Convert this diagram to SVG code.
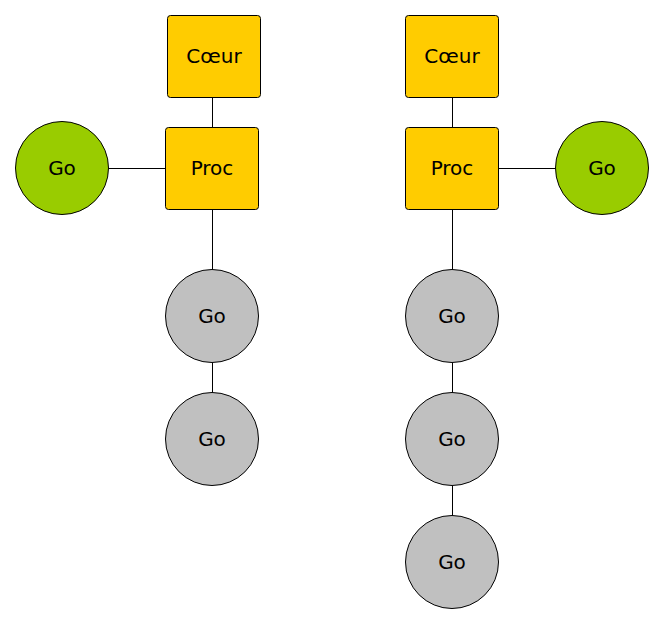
<svg xmlns="http://www.w3.org/2000/svg" width="664" height="624" viewBox="0 0 664 624">
  <style>
    .box { fill: #ffcc00; stroke: #000; stroke-width: 1; }
    .go { fill: #99cc00; stroke: #000; stroke-width: 1; }
    .idle { fill: #c0c0c0; stroke: #000; stroke-width: 1; }
    .edge { stroke: #000; stroke-width: 1; fill: none; }
    text { font-family: "DejaVu Sans", sans-serif; font-size: 20px; fill: #000; text-anchor: middle; }
  </style>
  <rect width="664" height="624" fill="#fff"/>
  <g id="connectors">
    <line class="edge" x1="212.5" y1="97.5" x2="212.5" y2="127.5"/>
    <line class="edge" x1="108.5" y1="168.5" x2="165.5" y2="168.5"/>
    <line class="edge" x1="212.5" y1="209.5" x2="212.5" y2="269.5"/>
    <line class="edge" x1="212.5" y1="362.5" x2="212.5" y2="392.5"/>
    <line class="edge" x1="452.5" y1="97.5" x2="452.5" y2="127.5"/>
    <line class="edge" x1="498.5" y1="168.5" x2="555.5" y2="168.5"/>
    <line class="edge" x1="452.5" y1="209.5" x2="452.5" y2="269.5"/>
    <line class="edge" x1="452.5" y1="362.5" x2="452.5" y2="392.5"/>
    <line class="edge" x1="452.5" y1="485.5" x2="452.5" y2="515.5"/>
  </g>
  <g id="coeur-left"><rect class="box" x="167.5" y="15.5" width="93" height="82" rx="3"/><text x="214" y="63">Cœur</text></g>
  <g id="proc-left"><rect class="box" x="165.5" y="127.5" width="93" height="82" rx="3"/><text x="212" y="175">Proc</text></g>
  <g id="go-left-active"><circle class="go" cx="62" cy="168" r="46.5"/><text x="62" y="175">Go</text></g>
  <g id="go-left-1"><circle class="idle" cx="212" cy="316" r="46.5"/><text x="212" y="323">Go</text></g>
  <g id="go-left-2"><circle class="idle" cx="212" cy="439" r="46.5"/><text x="212" y="446">Go</text></g>
  <g id="coeur-right"><rect class="box" x="405.5" y="15.5" width="93" height="82" rx="3"/><text x="452" y="63">Cœur</text></g>
  <g id="proc-right"><rect class="box" x="405.5" y="127.5" width="93" height="82" rx="3"/><text x="452" y="175">Proc</text></g>
  <g id="go-right-active"><circle class="go" cx="602" cy="168" r="46.5"/><text x="602" y="175">Go</text></g>
  <g id="go-right-1"><circle class="idle" cx="452" cy="316" r="46.5"/><text x="452" y="323">Go</text></g>
  <g id="go-right-2"><circle class="idle" cx="452" cy="439" r="46.5"/><text x="452" y="446">Go</text></g>
  <g id="go-right-3"><circle class="idle" cx="452" cy="562" r="46.5"/><text x="452" y="569">Go</text></g>
</svg>
